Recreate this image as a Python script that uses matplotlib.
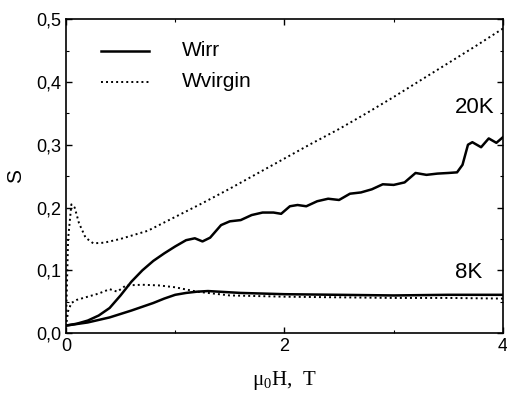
import matplotlib
matplotlib.use("Agg")
import matplotlib.pyplot as plt
from matplotlib.ticker import MultipleLocator, FuncFormatter

# 20K, irreversible (solid)
x_irr20 = [0.0, 0.1, 0.2, 0.3, 0.4, 0.5, 0.6, 0.7, 0.8, 0.9, 1.0, 1.1, 1.18, 1.25, 1.32, 1.42, 1.5, 1.6, 1.7, 1.8, 1.9,
           1.97, 2.05, 2.12, 2.2, 2.3, 2.4, 2.5, 2.6, 2.7, 2.8, 2.9, 3.0, 3.1, 3.2, 3.3, 3.4, 3.5, 3.58, 3.63,
           3.68, 3.72, 3.8, 3.87, 3.94, 4.0]
y_irr20 = [0.012, 0.015, 0.02, 0.028, 0.04, 0.06, 0.082, 0.1, 0.115, 0.127, 0.138, 0.148, 0.151, 0.146, 0.152, 0.172,
           0.178, 0.18, 0.188, 0.192, 0.192, 0.19, 0.202, 0.204, 0.202, 0.21, 0.214, 0.212, 0.222, 0.224, 0.229,
           0.237, 0.236, 0.24, 0.255, 0.252, 0.254, 0.255, 0.256, 0.268, 0.3, 0.304, 0.296, 0.31, 0.303, 0.312]

# 20K, virgin (dotted)
x_vir20 = [0.0, 0.02, 0.05, 0.08, 0.12, 0.18, 0.25, 0.35, 0.5, 0.75, 1.0, 1.25, 1.5, 1.75, 2.0, 2.25, 2.5, 2.75,
           3.0, 3.25, 3.5, 3.75, 4.0]
y_vir20 = [0.01, 0.15, 0.205, 0.2, 0.175, 0.152, 0.143, 0.144, 0.15, 0.163, 0.185, 0.207, 0.23, 0.254, 0.278,
           0.302, 0.325, 0.35, 0.376, 0.403, 0.43, 0.457, 0.485]

# 8K, irreversible (solid)
x_irr8 = [0.0, 0.2, 0.4, 0.6, 0.8, 0.9, 1.0, 1.1, 1.2, 1.3, 1.4, 1.6, 1.8, 2.0, 2.5, 3.0, 3.5, 4.0]
y_irr8 = [0.012, 0.017, 0.025, 0.036, 0.048, 0.055, 0.061, 0.064, 0.066, 0.067, 0.066, 0.064, 0.063, 0.062,
          0.061, 0.06, 0.061, 0.061]

# 8K, virgin (dotted)
x_vir8 = [0.0, 0.02, 0.05, 0.1, 0.2, 0.3, 0.4, 0.47, 0.55, 0.7, 0.85, 1.0, 1.2, 1.5, 2.0, 2.5, 3.0, 3.5, 4.0]
y_vir8 = [0.01, 0.035, 0.048, 0.053, 0.058, 0.063, 0.07, 0.066, 0.076, 0.077, 0.076, 0.073, 0.066, 0.06, 0.058,
          0.057, 0.056, 0.056, 0.055]

legend_labels = ["Wirr", "Wvirgin"]
curve_labels = ["20K", "8K"]

fig = plt.figure(figsize=(5.07, 3.98), dpi=100)
ax = fig.add_axes([0.130, 0.163, 0.862, 0.789])

ax.plot(x_irr20, y_irr20, color="black", lw=1.8)
ax.plot(x_irr8, y_irr8, color="black", lw=1.8)
ax.plot(x_vir20, y_vir20, color="black", lw=1.4, ls=(0, (1, 1.6)))
ax.plot(x_vir8, y_vir8, color="black", lw=1.4, ls=(0, (1, 1.6)))

ax.set_xlim(0, 4)
ax.set_ylim(0, 0.5)
ax.xaxis.set_major_locator(MultipleLocator(2))
ax.xaxis.set_minor_locator(MultipleLocator(1))
ax.yaxis.set_major_locator(MultipleLocator(0.1))
ax.yaxis.set_minor_locator(MultipleLocator(0.05))
ax.tick_params(which="both", direction="in", top=True, right=True)
ax.tick_params(which="major", length=4, width=1)
ax.tick_params(which="minor", length=2, width=0.8)
ax.yaxis.set_major_formatter(FuncFormatter(lambda v, p: f"{v:.1f}".replace(".", ",")))
ax.xaxis.set_major_formatter(FuncFormatter(lambda v, p: f"{v:.0f}"))
for lab in ax.get_yticklabels() + ax.get_xticklabels():
    lab.set_fontfamily("Liberation Sans")
    lab.set_fontsize(13)
for s in ax.spines.values():
    s.set_linewidth(1.2)

ax.set_ylabel("S", fontsize=15, family="Liberation Sans", labelpad=8)
ax.set_xlabel(r"$\mathregular{\mu_0H,\ T}$", fontsize=15, family="Liberation Serif", labelpad=10)

# legend drawn as lines+text in axes coords
ax.plot([0.08, 0.19], [0.9, 0.9], transform=ax.transAxes, color="black", lw=1.8)
ax.plot([0.08, 0.19], [0.8, 0.8], transform=ax.transAxes, color="black", lw=1.4, ls=(0, (1, 1.6)))
ax.text(0.265, 0.9, legend_labels[0], transform=ax.transAxes, fontsize=15, family="Liberation Sans", va="center")
ax.text(0.265, 0.8, legend_labels[1], transform=ax.transAxes, fontsize=15, family="Liberation Sans", va="center")

ax.text(3.56, 0.343, curve_labels[0], fontsize=16, family="Liberation Sans", va="bottom")
ax.text(3.56, 0.08, curve_labels[1], fontsize=16, family="Liberation Sans", va="bottom")

fig.savefig("out.png", dpi=100)
